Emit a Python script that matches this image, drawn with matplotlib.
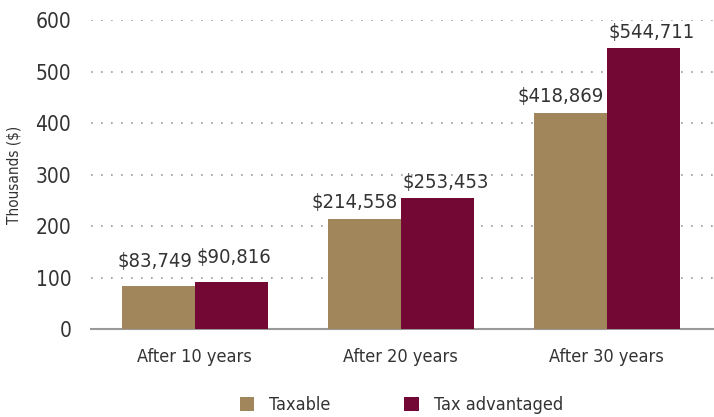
import matplotlib.pyplot as plt
import numpy as np

plt.rcParams['font.family'] = ['DejaVu Sans']
plt.rcParams['font.stretch'] = 'condensed'

# data
periods = ['After 10 years', 'After 20 years', 'After 30 years']
taxable = [83.749, 214.558, 418.869]
tax_adv = [90.816, 253.453, 544.711]
series_names = ['Taxable', 'Tax advantaged']

c_tax = '#a0865a'
c_adv = '#730835'
txt = '#333333'

fig = plt.figure(figsize=(7.14, 4.17), dpi=100)
ax = fig.add_axes([0.127, 0.211, 0.873, 0.741])

x = np.arange(len(periods))
w = 0.355
b1 = ax.bar(x - w / 2, taxable, w, color=c_tax, label=series_names[0], zorder=3)
b2 = ax.bar(x + w / 2, tax_adv, w, color=c_adv, label=series_names[1], zorder=3)

# value labels: taxable right-aligned, tax advantaged left-aligned at the bar boundary
for i in range(len(periods)):
    dy = 11 if i == 0 else 5
    ax.annotate('${:,.0f}'.format(taxable[i] * 1000), (x[i], taxable[i]),
                xytext=(-2, dy), textcoords='offset points', ha='right', va='bottom',
                fontsize=14.5, color=txt)
    ax.annotate('${:,.0f}'.format(tax_adv[i] * 1000), (x[i], tax_adv[i]),
                xytext=(1.5, dy), textcoords='offset points', ha='left', va='bottom',
                fontsize=14.5, color=txt)

ax.set_ylim(0, 600)
ax.set_xlim(-0.505, 2.52)
ax.set_yticks(range(0, 601, 100))
ax.set_xticks(x)
ax.set_xticklabels(periods, fontsize=13, color=txt)
ax.tick_params(axis='y', labelsize=15, labelcolor=txt, length=0, pad=14)
ax.tick_params(axis='x', length=0, pad=14)
ax.set_ylabel('Thousands ($)', fontsize=11, color=txt, labelpad=10)

ax.grid(axis='y', linestyle=(0, (1, 5)), color='#999999', linewidth=1.2, zorder=0)
for s in ['top', 'right', 'left']:
    ax.spines[s].set_visible(False)
ax.spines['bottom'].set_color('#999999')
ax.spines['bottom'].set_linewidth(1.5)

fig.legend(handles=[b1, b2], labels=series_names, loc='center',
           bbox_to_anchor=(0.562, 0.029), ncol=2, frameon=False, fontsize=13,
           handlelength=0.8, handleheight=0.8, handletextpad=0.83,
           columnspacing=4.1, labelcolor=txt)

plt.savefig('out.png', dpi=100)
